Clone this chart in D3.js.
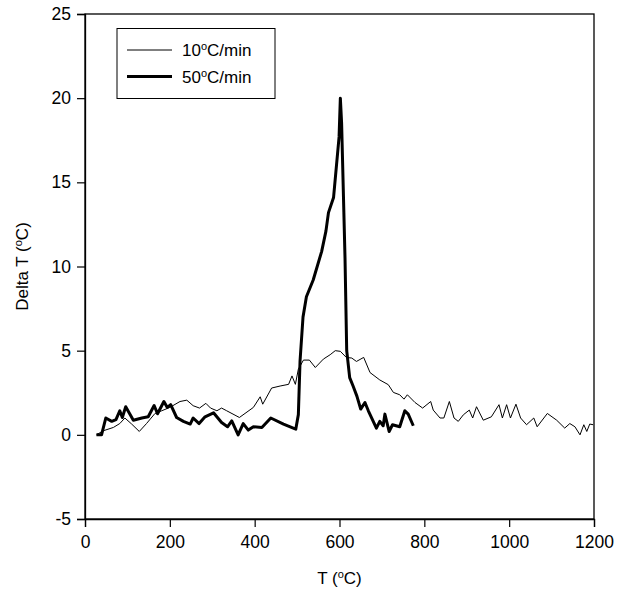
<!DOCTYPE html>
<html>
<head>
<meta charset="utf-8">
<script src="https://cdn.jsdelivr.net/npm/d3@7"></script>
<style>
  body { margin: 0; background: #fff; }
  svg { font-family: "Liberation Sans", Arial, sans-serif; }
</style>
</head>
<body>
<div id="chart"></div>
<script>
const width = 628;
const height = 596;
const margin = {top: 14, right: 34, bottom: 77, left: 85};

// 10 C/min run: [T, delta T]
const slowRun = [
  [27, 0], [43, 0.24], [67, 0.44], [82, 0.67], [94, 1.0], [110, 0.64], [128, 0.2], [145, 0.67],
  [165, 1.27], [181, 1.43], [200, 1.63], [224, 1.98], [240, 2.06], [255, 1.73], [270, 1.59],
  [285, 1.87], [296, 1.59], [311, 1.43], [322, 1.59], [334, 1.43], [364, 1.03], [397, 1.63],
  [413, 2.26], [419, 1.82], [440, 2.78], [460, 2.9], [480, 3.0], [488, 3.5], [496, 3.0],
  [503, 3.9], [515, 4.44], [529, 4.44], [543, 4.0], [562, 4.5], [578, 4.76], [590, 5.0],
  [602, 4.96], [616, 4.6], [629, 4.56], [640, 4.36], [657, 4.6], [672, 3.7], [695, 3.26],
  [715, 2.98], [727, 2.52], [742, 2.38], [752, 2.12], [760, 2.38], [778, 1.92], [796, 1.59],
  [815, 1.98], [821, 1.47], [837, 1.0], [846, 1.0], [859, 1.98], [870, 1.0], [880, 0.8],
  [892, 1.19], [906, 1.47], [914, 1.0], [923, 1.67], [939, 0.87], [958, 1.07], [976, 1.79],
  [984, 1.0], [994, 1.79], [1003, 1.0], [1016, 1.82], [1027, 1.0], [1041, 0.6], [1058, 1.0],
  [1066, 0.48], [1090, 1.27], [1112, 0.87], [1131, 0.4], [1143, 0.67], [1155, 0.48],
  [1167, 0], [1176, 0.6], [1183, 0.2], [1190, 0.64], [1198, 0.6]
];

// 50 C/min run
const fastRun = [
  [27, 0], [39, 0], [49, 1.0], [63, 0.8], [73, 0.9], [82, 1.43], [88, 1.03], [96, 1.67],
  [114, 0.87], [134, 1.0], [149, 1.07], [163, 1.74], [171, 1.25], [186, 1.98], [194, 1.63],
  [202, 1.79], [216, 1.03], [232, 0.8], [248, 0.64], [255, 1.0], [269, 0.67], [283, 1.07],
  [303, 1.31], [322, 0.73], [336, 0.48], [346, 0.83], [361, 0], [373, 0.67], [385, 0.28],
  [397, 0.48], [417, 0.44], [438, 1.0], [468, 0.64], [491, 0.4], [497, 0.34], [503, 1.2],
  [507, 4.4], [514, 7.0], [522, 8.2], [538, 9.2], [558, 10.9], [568, 12.1], [574, 13.2],
  [586, 14.1], [599, 17.7], [602, 20.0], [605, 18.5], [613, 10.5], [617, 5.0], [624, 3.4],
  [632, 2.9], [641, 2.3], [650, 1.53], [660, 1.92], [668, 1.43], [687, 0.4], [695, 0.8],
  [703, 0.54], [707, 1.23], [717, 0.2], [725, 0.6], [742, 0.48], [754, 1.43], [762, 1.23],
  [774, 0.54]
];

const xTicks = [0, 200, 400, 600, 800, 1000, 1200];
const yTicks = [-5, 0, 5, 10, 15, 20, 25];
const legendLabels = ["10", "50"];

const svg = d3.select("#chart").append("svg")
  .attr("width", width)
  .attr("height", height);

const x = d3.scaleLinear().domain([0, 1200]).range([margin.left, width - margin.right]);
const y = d3.scaleLinear().domain([-5, 25]).range([height - margin.bottom, margin.top]);

// frame
svg.append("rect")
  .attr("x", margin.left)
  .attr("y", margin.top)
  .attr("width", width - margin.right - margin.left)
  .attr("height", height - margin.bottom - margin.top)
  .attr("fill", "none")
  .attr("stroke", "#000")
  .attr("stroke-width", 1.3);

const plain = d => String(d);

const xAxis = svg.append("g")
  .attr("transform", `translate(0,${height - margin.bottom})`)
  .call(d3.axisBottom(x).tickValues(xTicks).tickFormat(plain).tickSize(8).tickPadding(9));

const yAxis = svg.append("g")
  .attr("transform", `translate(${margin.left},0)`)
  .call(d3.axisLeft(y).tickValues(yTicks).tickFormat(plain).tickSize(8).tickPadding(6));

[xAxis, yAxis].forEach(g => {
  g.select(".domain").attr("stroke-width", 1.3);
  g.selectAll(".tick line").attr("stroke-width", 1.2);
  g.selectAll("text")
    .attr("font-family", "Liberation Sans, Arial, sans-serif")
    .attr("font-size", 17.5)
    .attr("fill", "#000");
});

const line = d3.line().x(d => x(d[0])).y(d => y(d[1]));

svg.append("path")
  .datum(slowRun)
  .attr("d", line)
  .attr("fill", "none")
  .attr("stroke", "#000")
  .attr("stroke-width", 1);

svg.append("path")
  .datum(fastRun)
  .attr("d", line)
  .attr("fill", "none")
  .attr("stroke", "#000")
  .attr("stroke-width", 3)
  .attr("stroke-linejoin", "round");

// axis titles
const xTitle = svg.append("text")
  .attr("x", (margin.left + width - margin.right) / 2)
  .attr("y", 584)
  .attr("text-anchor", "middle")
  .attr("font-size", 17);
xTitle.append("tspan").text("T (");
xTitle.append("tspan").attr("dy", -6).attr("font-size", 11).text("o");
xTitle.append("tspan").attr("dy", 6).text("C)");

const yTitle = svg.append("text")
  .attr("transform", `translate(28,${(margin.top + height - margin.bottom) / 2}) rotate(-90)`)
  .attr("text-anchor", "middle")
  .attr("font-size", 17);
yTitle.append("tspan").text("Delta T (");
yTitle.append("tspan").attr("dy", -6).attr("font-size", 11).text("o");
yTitle.append("tspan").attr("dy", 6).text("C)");

// legend
const legend = svg.append("g");
legend.append("rect")
  .attr("x", 117).attr("y", 28.5)
  .attr("width", 158).attr("height", 70)
  .attr("fill", "#fff")
  .attr("stroke", "#000")
  .attr("stroke-width", 1);

legendLabels.forEach((lab, i) => {
  const ly = 50 + i * 26.5;
  legend.append("line")
    .attr("x1", 127).attr("x2", 172)
    .attr("y1", ly).attr("y2", ly)
    .attr("stroke", "#000")
    .attr("stroke-width", i === 0 ? 1 : 3);
  const t = legend.append("text")
    .attr("x", 182)
    .attr("y", ly + 6)
    .attr("font-size", 17);
  t.append("tspan").text(lab);
  t.append("tspan").attr("dy", -6).attr("font-size", 11).text("o");
  t.append("tspan").attr("dy", 6).text("C/min");
});
</script>
</body>
</html>
